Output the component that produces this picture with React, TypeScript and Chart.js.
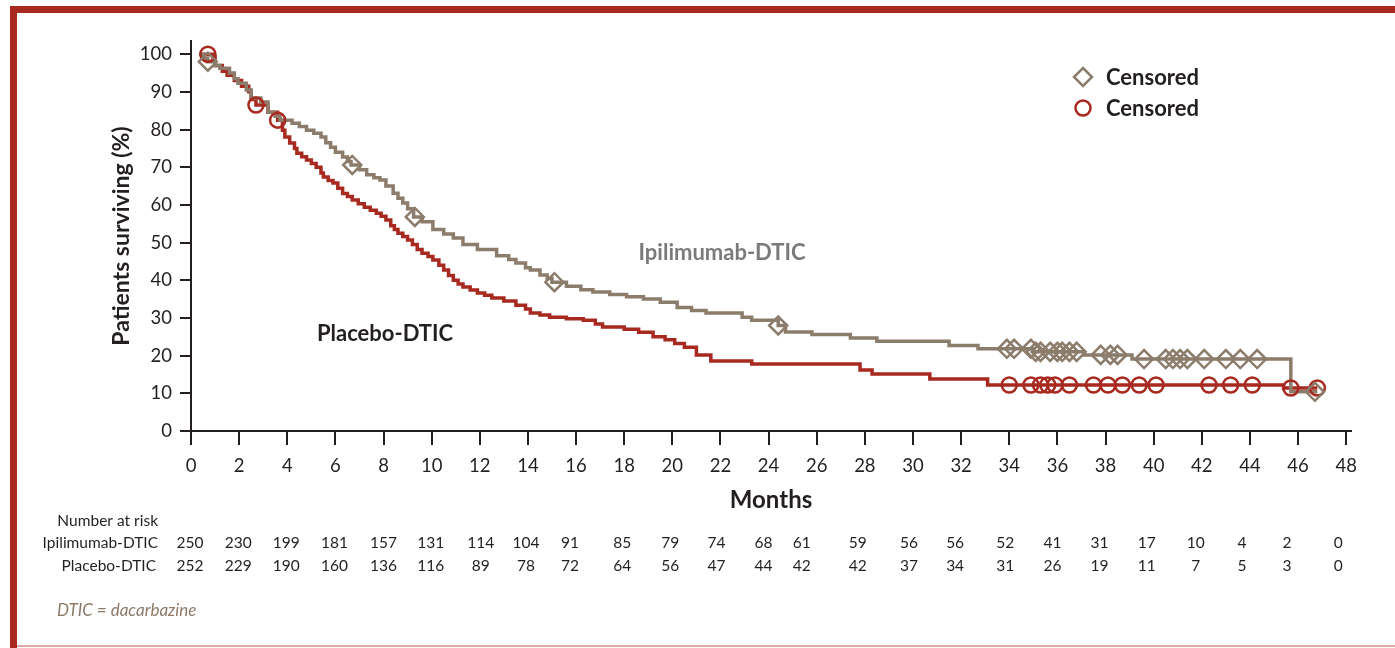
import { useEffect, useRef } from "react";
import { Chart, registerables } from "chart.js";

Chart.register(...registerables);

// Kaplan–Meier step points: time in months, survival in %
const ipiTimes = [0.35, 0.5, 0.7, 1.0, 1.2, 1.6, 1.8, 1.95, 2.3, 2.5, 2.9, 3.2, 3.5, 3.7, 4.2, 4.5, 4.8, 5.1, 5.4, 5.6, 5.8, 6.0, 6.3, 6.5, 6.65, 7.0, 7.3, 7.6, 7.85, 8.1, 8.4, 8.6, 8.8, 9.0, 9.25, 9.6, 10.05, 10.5, 10.9, 11.3, 11.9, 12.7, 13.2, 13.5, 13.9, 14.1, 14.5, 14.8, 15.0, 15.6, 16.2, 16.7, 17.4, 18.1, 18.8, 19.5, 20.2, 20.8, 21.4, 22.9, 23.3, 24.4, 24.7, 25.8, 27.4, 28.5, 31.5, 32.7, 35.0, 37.1, 39.1, 45.7, 46.8];
const ipiSurv = [100, 99, 98, 97, 96.3, 95, 93.5, 92.3, 90.5, 88.4, 87.3, 84.6, 83.5, 82.5, 81.7, 80.8, 79.8, 79, 78, 76.5, 75.3, 74, 72.7, 71.5, 70.6, 69.3, 68, 67.2, 66.6, 65, 63.1, 61.8, 60.5, 59, 56.8, 55.5, 53.5, 52.3, 51.2, 49.5, 48.2, 46.5, 45.5, 44.6, 43.3, 42.7, 41.4, 40.5, 39.5, 38.4, 37.5, 36.9, 36.2, 35.6, 35.0, 34.2, 32.8, 32.0, 31.3, 30.2, 29.4, 28.0, 26.3, 25.6, 24.7, 23.8, 22.7, 21.8, 21.0, 20.2, 19.1, 10.4, 10.4];

const pboTimes = [0.35, 0.9, 1.0, 1.3, 1.5, 1.8, 2.1, 2.4, 2.5, 2.7, 3.2, 3.6, 3.8, 3.9, 4.1, 4.3, 4.4, 4.6, 4.8, 5.0, 5.2, 5.4, 5.5, 5.7, 5.9, 6.1, 6.3, 6.5, 6.7, 6.95, 7.2, 7.45, 7.7, 7.9, 8.1, 8.3, 8.45, 8.6, 8.8, 9.0, 9.2, 9.4, 9.6, 9.85, 10.05, 10.3, 10.5, 10.7, 10.9, 11.1, 11.3, 11.6, 11.9, 12.2, 12.5, 13.0, 13.5, 13.9, 14.1, 14.5, 14.9, 15.6, 16.3, 16.8, 17.1, 18.0, 18.6, 19.2, 19.7, 20.1, 20.5, 21.0, 21.6, 23.3, 27.8, 28.3, 30.7, 33.1, 45.4, 46.8];
const pboSurv = [100, 99.3, 97, 95.5, 94.4, 93, 91.5, 90, 88, 86.5, 84.6, 82.5, 79.8, 78, 76.4, 75, 73.7, 72.8, 71.9, 71, 70, 68.5, 67.4, 66.5, 65.8, 64.4, 63, 62.2, 61.3, 60.3, 59.4, 58.6, 57.8, 57, 56, 54.5, 53.5, 52.5, 51.6, 50.7, 49.5, 48.2, 47.2, 46.3, 45.4, 44, 42.7, 41.3, 40, 39, 38.2, 37.4, 36.6, 36, 35.3, 34.5, 33.4, 32.4, 31.3, 30.8, 30.2, 29.8, 29.4, 28.4, 27.6, 27.0, 26.2, 25, 24.2, 23.2, 22.2, 20.2, 18.6, 17.8, 16.2, 15.1, 13.8, 12.2, 11.4, 11.4];

// Censoring times (months)
const ipiCensored = [0.7, 6.7, 9.3, 15.1, 24.4, 33.9, 34.2, 34.9, 35.1, 35.3, 35.7, 36.0, 36.2, 36.5, 36.8, 37.8, 38.2, 38.5, 39.6, 40.5, 40.8, 41.1, 41.4, 42.1, 43.0, 43.6, 44.3, 46.7];
const pboCensored = [0.7, 2.7, 3.6, 34.0, 34.9, 35.3, 35.6, 35.9, 36.5, 37.5, 38.1, 38.7, 39.4, 40.1, 42.3, 43.2, 44.1, 45.7, 46.8];

const xTicks = [0, 2, 4, 6, 8, 10, 12, 14, 16, 18, 20, 22, 24, 26, 28, 30, 32, 34, 36, 38, 40, 42, 44, 46, 48];
const yTicks = [0, 10, 20, 30, 40, 50, 60, 70, 80, 90, 100];

// Number at risk, one column per x tick
const riskMonths = xTicks;
const ipiAtRisk = [250, 230, 199, 181, 157, 131, 114, 104, 91, 85, 79, 74, 68, 61, 59, 56, 56, 52, 41, 31, 17, 10, 4, 2, 0];
const pboAtRisk = [252, 229, 190, 160, 136, 116, 89, 78, 72, 64, 56, 47, 44, 42, 42, 37, 34, 31, 26, 19, 11, 7, 5, 3, 0];
// small horizontal nudges (px) of the risk-table columns
const riskNudge = [-1, -1, -1, -1, 0, -1, 1, -2, -6, -2, -2, -4, -5, -15, -7, -4, -6, -4, -5, -6, -7, -6, -8, -11, -8];

const FONT = "Lato, 'Open Sans', sans-serif";
const INK = "#231f20";
const TAN = "#8c7c6b";
const RED = "#a8291f";

function survivalAt(times: number[], surv: number[], t: number) {
  let s = surv[0];
  for (let i = 0; i < times.length; i++) if (times[i] <= t) s = surv[i];
  return s;
}

const decorPlugin = {
  id: "decor",
  beforeDraw(chart: any) {
    const ctx = chart.ctx as CanvasRenderingContext2D;
    ctx.save();
    ctx.fillStyle = "#ffffff";
    ctx.fillRect(0, 0, chart.width, chart.height);
    ctx.fillStyle = RED;
    ctx.fillRect(10, 6, chart.width - 10, 7);
    ctx.fillRect(10, 6, 7, chart.height - 6);
    ctx.fillStyle = "#dca9a5";
    ctx.fillRect(17, 645, chart.width - 17, 2);
    ctx.restore();
  },
  afterDraw(chart: any) {
    const ctx = chart.ctx as CanvasRenderingContext2D;
    const xs = chart.scales.x;
    ctx.save();

    // legend
    ctx.lineWidth = 2.5;
    ctx.strokeStyle = TAN;
    ctx.beginPath();
    ctx.moveTo(1083, 68);
    ctx.lineTo(1092, 77);
    ctx.lineTo(1083, 86);
    ctx.lineTo(1074, 77);
    ctx.closePath();
    ctx.stroke();
    ctx.strokeStyle = RED;
    ctx.beginPath();
    ctx.arc(1083, 108, 7.5, 0, Math.PI * 2);
    ctx.stroke();
    ctx.fillStyle = INK;
    ctx.font = `bold 22px ${FONT}`;
    ctx.textAlign = "left";
    ctx.textBaseline = "middle";
    ctx.fillText("Censored", 1106, 78);
    ctx.fillText("Censored", 1106, 109);

    // curve labels
    ctx.textAlign = "center";
    ctx.font = `bold 22px ${FONT}`;
    ctx.fillStyle = "#7a7a7a";
    ctx.fillText("Ipilimumab-DTIC", 722, 253);
    ctx.fillStyle = INK;
    ctx.fillText("Placebo-DTIC", 385, 334);

    // number at risk table
    ctx.font = `15.5px ${FONT}`;
    ctx.fillStyle = INK;
    ctx.textAlign = "right";
    ctx.fillText("Number at risk", 158, 521);
    ctx.fillText("Ipilimumab-DTIC", 158, 543);
    ctx.fillText("Placebo-DTIC", 156, 566);
    ctx.textAlign = "center";
    riskMonths.forEach((m, i) => {
      const px = xs.getPixelForValue(m) + riskNudge[i];
      ctx.fillText(String(ipiAtRisk[i]), px, 543);
      ctx.fillText(String(pboAtRisk[i]), px, 566);
    });

    // footnote
    ctx.textAlign = "left";
    ctx.font = `italic 17px ${FONT}`;
    ctx.fillStyle = "#8b7a68";
    ctx.fillText("DTIC = dacarbazine", 57, 611);
    ctx.restore();
  },
};

export default function App() {
  const canvasRef = useRef<HTMLCanvasElement | null>(null);

  useEffect(() => {
    const canvas = canvasRef.current;
    if (!canvas) return;

    const ipiLine = ipiTimes.map((t, i) => ({ x: t, y: ipiSurv[i] }));
    const pboLine = pboTimes.map((t, i) => ({ x: t, y: pboSurv[i] }));
    const ipiMarks = ipiCensored.map((t) => ({ x: t, y: survivalAt(ipiTimes, ipiSurv, t) }));
    const pboMarks = pboCensored.map((t) => ({ x: t, y: survivalAt(pboTimes, pboSurv, t) }));

    const chart = new Chart(canvas, {
      type: "line",
      data: {
        datasets: [
          {
            label: "Censored",
            data: ipiMarks,
            showLine: false,
            pointStyle: "rectRot",
            pointRadius: 9,
            pointBorderWidth: 2.5,
            pointBorderColor: TAN,
            pointBackgroundColor: "rgba(0,0,0,0)",
          },
          {
            label: "Censored",
            data: pboMarks,
            showLine: false,
            pointStyle: "circle",
            pointRadius: 7.5,
            pointBorderWidth: 2.5,
            pointBorderColor: RED,
            pointBackgroundColor: "rgba(0,0,0,0)",
          },
          {
            label: "Ipilimumab-DTIC",
            data: ipiLine,
            stepped: "before",
            borderColor: TAN,
            borderWidth: 3.5,
            pointRadius: 0,
            fill: false,
          },
          {
            label: "Placebo-DTIC",
            data: pboLine,
            stepped: "before",
            borderColor: RED,
            borderWidth: 3.5,
            pointRadius: 0,
            fill: false,
          },
        ],
      },
      options: {
        animation: false,
        responsive: false,
        devicePixelRatio: 1,
        events: [],
        layout: { padding: { left: 100, top: 41, right: 44, bottom: 0 } },
        plugins: { legend: { display: false }, tooltip: { enabled: false } },
        scales: {
          x: {
            type: "linear",
            min: 0,
            max: 48.2,
            afterBuildTicks: (s: any) => {
              s.ticks = xTicks.map((v) => ({ value: v }));
            },
            afterFit: (s: any) => {
              s.height = 217;
            },
            ticks: {
              color: INK,
              font: { family: FONT, size: 18.5 },
              padding: 10,
              maxRotation: 0,
              autoSkip: false,
            },
            grid: { drawOnChartArea: false, drawTicks: true, tickLength: 14, color: INK, lineWidth: 2 },
            border: { display: true, color: INK, width: 2 },
            title: {
              display: true,
              text: "Months",
              color: INK,
              font: { family: FONT, size: 24, weight: "bold" },
              padding: { top: 0, bottom: 133 },
            },
          },
          y: {
            type: "linear",
            min: 0,
            max: 103.5,
            afterBuildTicks: (s: any) => {
              s.ticks = yTicks.map((v) => ({ value: v }));
            },
            afterFit: (s: any) => {
              s.width = 91;
            },
            ticks: { color: INK, font: { family: FONT, size: 18.5 }, padding: 8 },
            grid: { drawOnChartArea: false, drawTicks: true, tickLength: 11, color: INK, lineWidth: 2 },
            border: { display: true, color: INK, width: 2 },
            title: {
              display: true,
              text: "Patients surviving (%)",
              color: INK,
              font: { family: FONT, size: 23, weight: "bold" },
              padding: { top: 8, bottom: 0 },
            },
          },
        },
      },
      plugins: [decorPlugin],
    } as any);

    return () => chart.destroy();
  }, []);

  return (
    <div style={{ position: "absolute", left: 0, top: 0, width: 1395, height: 648, background: "#fff" }}>
      <canvas ref={canvasRef} width={1395} height={648} style={{ display: "block" }} />
    </div>
  );
}
